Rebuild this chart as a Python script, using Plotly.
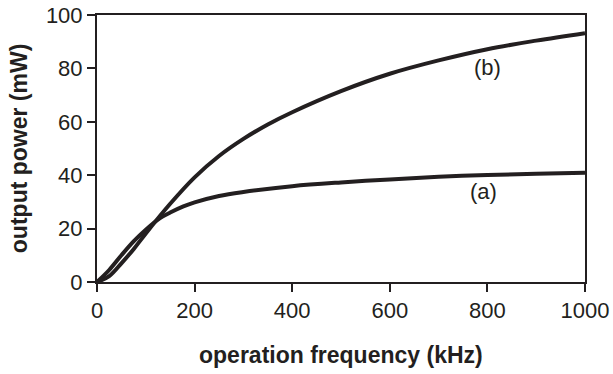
import plotly.graph_objects as go

freq_a = [0, 25, 50, 75, 100, 130, 150, 177, 200, 250, 300, 400, 500, 600, 700, 800, 900, 1000]
power_a = [0, 4.5, 10, 15.2, 19.6, 24.0, 26.0, 28.3, 29.8, 32.2, 33.7, 35.9, 37.3, 38.4, 39.4, 40.1, 40.5, 40.9]
freq_b = [0, 25, 50, 75, 100, 150, 200, 250, 300, 350, 400, 500, 600, 700, 800, 900, 1000]
power_b = [0, 2.2, 7, 12.3, 18.2, 29.3, 39.2, 47.2, 53.6, 59, 63.6, 71.5, 78, 83, 87.2, 90.4, 93.2]
labels = ["(a)", "(b)"]
label_x = [792, 801]
label_y = [33.8, 80.3]
x_ticks = [0, 200, 400, 600, 800, 1000]
y_ticks = [0, 20, 40, 60, 80, 100]

ink = "#231f20"
fam = "Liberation Sans, Arial, sans-serif"
fig = go.Figure()
fig.add_trace(go.Scatter(x=freq_a, y=power_a, mode="lines", line=dict(color=ink, width=4, shape="spline", smoothing=1.0), showlegend=False))
fig.add_trace(go.Scatter(x=freq_b, y=power_b, mode="lines", line=dict(color=ink, width=4, shape="spline", smoothing=1.0), showlegend=False))
for t, x, y in zip(labels, label_x, label_y):
    fig.add_annotation(x=x, y=y, text=t, showarrow=False, font=dict(family=fam, size=22, color=ink))

fig.add_annotation(xref="paper", yref="paper", x=0.5, y=-0.275, text="<b>operation frequency (kHz)</b>",
                   showarrow=False, xanchor="center", yanchor="middle", font=dict(family=fam, size=23, color=ink))
fig.add_annotation(xref="paper", yref="paper", x=-0.1605, y=0.5, text="<b>output power (mW)</b>", textangle=-90,
                   showarrow=False, xanchor="center", yanchor="middle", font=dict(family=fam, size=23, color=ink))

fig.update_layout(
    width=613, height=374,
    margin=dict(l=96.5, r=27.5, t=15, b=92, autoexpand=False),
    plot_bgcolor="white", paper_bgcolor="white",
    font=dict(family=fam, size=22, color=ink),
)
fig.update_xaxes(range=[0, 1000], tickvals=x_ticks, showgrid=False, zeroline=False, automargin=False,
                 showline=True, linecolor=ink, linewidth=2, mirror=True, ticks="outside", ticklen=8, tickwidth=1.5,
                 tickcolor=ink)
fig.update_yaxes(range=[0, 100], tickvals=y_ticks, showgrid=False, zeroline=False, automargin=False,
                 showline=True, linecolor=ink, linewidth=2, mirror=True, ticks="outside", ticklen=8, tickwidth=1.5,
                 tickcolor=ink)
fig.write_html("out.html", config={"displayModeBar": False},
               post_script="document.body.style.margin='0';document.body.style.overflow='hidden';")
